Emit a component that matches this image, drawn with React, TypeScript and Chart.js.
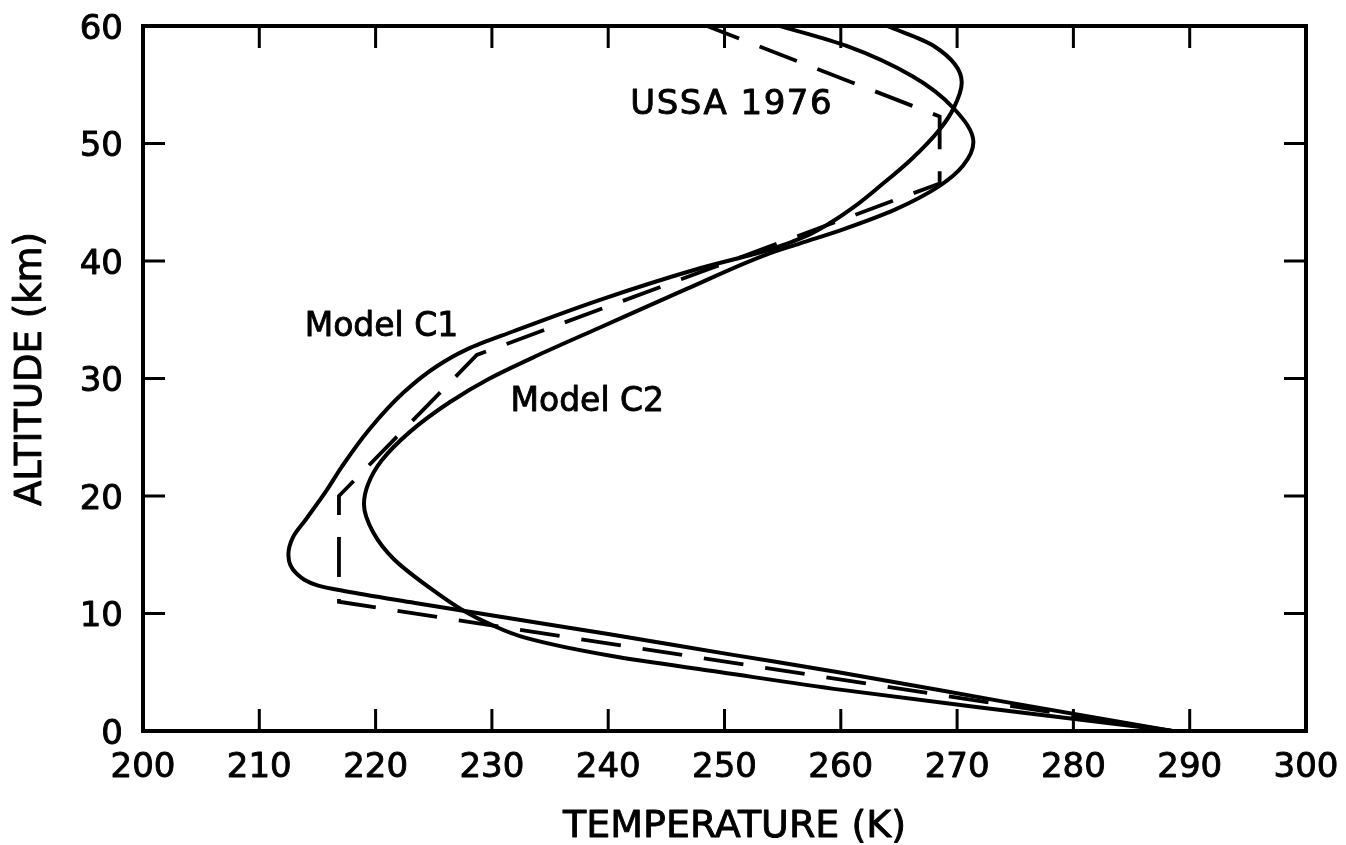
import React, { useEffect, useRef } from 'react';
import { Chart, registerables } from 'chart.js';

Chart.register(...registerables);

// ---- Data (altitude km, temperature K) ----
const ussaAlt = [0, 11, 20, 32, 46.6, 52.3, 60];
const ussaTemp = [288.5, 216.85, 216.85, 228.7, 268.5, 268.5, 248.5];

const c1Alt = [0, 2.5, 5.0, 6.5, 8.25, 9.8, 10.9, 11.9, 12.4, 13.4, 15.0, 16.5, 18.0, 20.5, 22.5, 25.6, 28.8, 31.0, 32.5, 34.0, 36.7, 39.3, 41.0, 42.2, 43.25, 44.8, 46.4, 48.6, 51.2, 53.0, 55.2, 58.3, 60];
const c1Temp = [288.5, 274.0, 259.8, 250.6, 240.0, 230.2, 223.4, 217.4, 215.0, 213.2, 212.5, 212.9, 214.0, 215.8, 217.1, 219.4, 222.4, 225.2, 227.9, 231.8, 239.3, 247.6, 254.0, 257.2, 259.1, 261.4, 263.4, 266.0, 268.5, 269.7, 270.4, 268.0, 264.0];

const c2Alt = [0, 1.0, 2.0, 3.5, 5.0, 6.4, 7.9, 9.2, 10.1, 11.8, 14.6, 16.9, 19.3, 21.0, 23.0, 25.5, 28.0, 30.0, 32.0, 34.3, 37.6, 40.55, 41.5, 42.7, 44.4, 46.4, 48.1, 50.1, 53.0, 55.7, 58.3, 60];
const c2Temp = [288.5, 280.3, 272.0, 260.1, 249.7, 240.2, 233.0, 229.6, 227.8, 225.2, 221.6, 219.8, 219.0, 219.35, 220.5, 223.0, 226.4, 229.8, 234.0, 239.2, 246.7, 253.6, 256.5, 260.2, 264.7, 268.5, 270.5, 271.4, 269.7, 266.2, 260.5, 254.8];

const xTickValues = [200, 210, 220, 230, 240, 250, 260, 270, 280, 290, 300];
const yTickValues = [0, 10, 20, 30, 40, 50, 60];

const labels = [
  { text: 'USSA 1976', t: 241.9, a: 52.5, size: 34, spacing: 1.5 },
  { text: 'Model C1', t: 213.9, a: 33.6, size: 33, spacing: 0 },
  { text: 'Model C2', t: 231.6, a: 27.2, size: 33, spacing: 0 },
];

const FONT = '"DejaVu Sans", sans-serif';

function drawText(ctx: any, text: string, x: number, y: number) {
  ctx.fillText(text, x, y);
  ctx.strokeText(text, x, y);
}

const framePlugin = {
  id: 'frameTicks',
  afterDraw(chart: any) {
    const { ctx, chartArea: ca, scales } = chart;
    const xs = scales.x;
    const ys = scales.y;
    const tickLen = 22;
    ctx.save();
    ctx.strokeStyle = '#000';
    ctx.lineWidth = 3;
    ctx.lineCap = 'butt';
    xTickValues.slice(1, -1).forEach((v) => {
      const px = xs.getPixelForValue(v);
      ctx.beginPath();
      ctx.moveTo(px, ca.bottom);
      ctx.lineTo(px, ca.bottom - tickLen);
      ctx.moveTo(px, ca.top);
      ctx.lineTo(px, ca.top + tickLen);
      ctx.stroke();
    });
    yTickValues.slice(1, -1).forEach((v) => {
      const py = ys.getPixelForValue(v);
      ctx.beginPath();
      ctx.moveTo(ca.left, py);
      ctx.lineTo(ca.left + tickLen, py);
      ctx.moveTo(ca.right, py);
      ctx.lineTo(ca.right - tickLen, py);
      ctx.stroke();
    });
    ctx.lineWidth = 4;
    ctx.lineJoin = 'miter';
    ctx.strokeRect(ca.left, ca.top, ca.right - ca.left, ca.bottom - ca.top);

    ctx.fillStyle = '#000';
    ctx.lineWidth = 0.9;
    ctx.lineJoin = 'round';

    // tick labels
    ctx.font = `34px ${FONT}`;
    ctx.textAlign = 'center';
    ctx.textBaseline = 'alphabetic';
    xTickValues.forEach((v) => {
      drawText(ctx, String(v), xs.getPixelForValue(v), ca.bottom + 46);
    });
    ctx.textAlign = 'right';
    yTickValues.forEach((v) => {
      drawText(ctx, String(v), ca.left - 20, ys.getPixelForValue(v) + 12.5);
    });

    // annotations
    ctx.textAlign = 'left';
    labels.forEach((l) => {
      ctx.font = `${l.size}px ${FONT}`;
      (ctx as any).letterSpacing = `${l.spacing}px`;
      drawText(ctx, l.text, xs.getPixelForValue(l.t), ys.getPixelForValue(l.a));
    });
    (ctx as any).letterSpacing = '0px';

    // axis titles
    ctx.font = `38px ${FONT}`;
    ctx.textAlign = 'center';
    ctx.textBaseline = 'middle';
    drawText(ctx, 'TEMPERATURE (K)', (ca.left + ca.right) / 2 + 10, 827);
    ctx.save();
    ctx.translate(31, 369);
    ctx.rotate(-Math.PI / 2);
    ctx.font = `37px ${FONT}`;
    drawText(ctx, 'ALTITUDE (km)', 0, 0);
    ctx.restore();
    ctx.restore();
  },
};

function toPoints(alt: number[], temp: number[]) {
  return alt.map((a, i) => ({ x: temp[i], y: a }));
}

export default function App() {
  const ref = useRef<HTMLCanvasElement | null>(null);
  useEffect(() => {
    if (!ref.current) return;
    const chart = new Chart(ref.current, {
      type: 'line',
      data: {
        datasets: [
          {
            label: 'Model C1',
            data: toPoints(c1Alt, c1Temp),
            borderColor: '#000',
            borderWidth: 4,
            pointRadius: 0,
            cubicInterpolationMode: 'monotone',
            fill: false,
          },
          {
            label: 'Model C2',
            data: toPoints(c2Alt, c2Temp),
            borderColor: '#000',
            borderWidth: 4,
            pointRadius: 0,
            cubicInterpolationMode: 'monotone',
            fill: false,
          },
          {
            label: 'USSA 1976',
            data: toPoints(ussaAlt, ussaTemp),
            borderColor: '#000',
            borderWidth: 3.8,
            borderDash: [40, 22],
            pointRadius: 0,
            tension: 0,
            fill: false,
          },
        ],
      } as any,
      plugins: [framePlugin],
      options: {
        indexAxis: 'y',
        responsive: false,
        animation: false,
        events: [],
        layout: { padding: { left: 0, right: 40, top: 26, bottom: 0 } },
        plugins: { legend: { display: false }, tooltip: { enabled: false } },
        scales: {
          x: {
            type: 'linear',
            min: 200,
            max: 300,
            grid: { display: false, drawTicks: false },
            border: { display: false },
            ticks: { display: false, stepSize: 10 },
            afterFit: (s: any) => {
              s.height = 114;
            },
          },
          y: {
            type: 'linear',
            min: 0,
            max: 60,
            grid: { display: false, drawTicks: false },
            border: { display: false },
            ticks: { display: false, stepSize: 10 },
            afterFit: (s: any) => {
              s.width = 143;
            },
          },
        },
      } as any,
    });
    return () => chart.destroy();
  }, []);
  return (
    <div style={{ position: 'fixed', left: 0, top: 0, width: 1346, height: 845, background: '#fff' }}>
      <canvas ref={ref} width={1346} height={845} style={{ display: 'block' }} />
    </div>
  );
}
